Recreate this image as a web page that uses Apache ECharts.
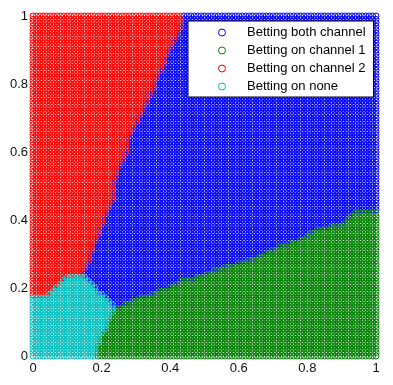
<!DOCTYPE html>
<html>
<head>
<meta charset="utf-8">
<script src="https://cdn.jsdelivr.net/npm/echarts@6/dist/echarts.min.js"></script>
<style>
html,body{margin:0;padding:0;background:#fff;}
#chart{width:393px;height:385px;}
</style>
</head>
<body>
<div id="chart"></div>
<script>
// ---- data ----
var seriesNames = ['Betting both channel', 'Betting on channel 1', 'Betting on channel 2', 'Betting on none'];
var seriesColors = ['#0000FF', '#008000', '#FF0000', '#00BFBF'];
var xTicks = [0, 0.2, 0.4, 0.6, 0.8, 1];
var yTicks = [0, 0.2, 0.4, 0.6, 0.8, 1];
var gridStep = 0.01;

// red / blue boundary: x where red ends, at given y
var redBoundY = [0.24, 0.27, 0.30, 0.33, 0.37, 0.40, 0.43, 0.46, 0.49, 0.52, 0.55, 0.58, 0.61, 0.64, 0.67, 0.69, 0.72, 0.75, 0.78, 0.81, 0.84, 0.87, 0.90, 0.93, 0.96, 1.00];
var redBoundX = [0.143, 0.157, 0.166, 0.178, 0.195, 0.204, 0.219, 0.230, 0.233, 0.239, 0.248, 0.262, 0.274, 0.277, 0.292, 0.303, 0.318, 0.332, 0.347, 0.356, 0.376, 0.385, 0.394, 0.414, 0.429, 0.434];

// top edge of the cyan region, over x
var cyanTopX = [0, 0.044, 0.055, 0.073, 0.085, 0.093, 0.152, 0.175, 0.187, 0.210, 0.224, 0.235];
var cyanTopY = [0.179, 0.179, 0.194, 0.203, 0.224, 0.232, 0.232, 0.209, 0.188, 0.174, 0.159, 0.144];

// right edge of the cyan region, over y
var cyanRightY = [0, 0.032, 0.053, 0.076, 0.100, 0.126, 0.144];
var cyanRightX = [0.181, 0.187, 0.195, 0.210, 0.219, 0.230, 0.235];

// top edge of the green region, over x
var greenTopX = [0.18, 0.233, 0.268, 0.292, 0.341, 0.391, 0.437, 0.487, 0.536, 0.583, 0.633, 0.682, 0.729, 0.778, 0.828, 0.857, 0.895, 0.918, 0.933, 0.974, 1.0];
var greenTopY = [0.135, 0.135, 0.150, 0.165, 0.179, 0.200, 0.224, 0.232, 0.253, 0.268, 0.282, 0.303, 0.326, 0.341, 0.371, 0.379, 0.385, 0.400, 0.424, 0.429, 0.424];

// ---- build classified lattice ----
function edge(xs, ys, v) {
  if (v <= xs[0]) return ys[0];
  for (var i = 1; i < xs.length; i++) {
    if (v <= xs[i]) {
      var t = (v - xs[i - 1]) / (xs[i] - xs[i - 1]);
      return ys[i - 1] + t * (ys[i] - ys[i - 1]);
    }
  }
  return ys[ys.length - 1];
}
var groups = [[], [], [], []];
var n = Math.round(1 / gridStep);
for (var i = 0; i <= n; i++) {
  for (var j = 0; j <= n; j++) {
    var x = +(i * gridStep).toFixed(2), y = +(j * gridStep).toFixed(2);
    var k;
    if (x <= cyanTopX[cyanTopX.length - 1] && y <= edge(cyanTopX, cyanTopY, x) && x <= edge(cyanRightY, cyanRightX, y)) k = 3;
    else if (x >= greenTopX[0] && y <= edge(greenTopX, greenTopY, x)) k = 1;
    else if (x <= edge(redBoundY, redBoundX, y)) k = 2;
    else k = 0;
    groups[k].push([x, y]);
  }
}

var chart = echarts.init(document.getElementById('chart'), null, {renderer: 'canvas'});
var fontFam = '"Liberation Sans", Arial, sans-serif';
var series = seriesNames.map(function (name, idx) {
  return {
    name: name,
    type: 'scatter',
    data: groups[idx],
    symbol: 'circle',
    symbolSize: 6,
    progressive: 0,
    silent: true,
    animation: false,
    itemStyle: {color: 'rgba(255,255,255,0)', borderColor: seriesColors[idx], borderWidth: 1, opacity: 1},
    emphasis: {disabled: true}
  };
});
var option = {
  animation: false,
  backgroundColor: '#fff',
  grid: {left: 33, right: 17, top: 16, bottom: 29},
  xAxis: {
    type: 'value', min: xTicks[0], max: xTicks[xTicks.length - 1], interval: xTicks[1] - xTicks[0],
    axisLine: {show: false}, axisTick: {show: false}, splitLine: {show: false},
    axisLabel: {color: '#111', fontSize: 13, fontFamily: fontFam, margin: 6}
  },
  yAxis: {
    type: 'value', min: yTicks[0], max: yTicks[yTicks.length - 1], interval: yTicks[1] - yTicks[0],
    axisLine: {show: false}, axisTick: {show: false}, splitLine: {show: false},
    axisLabel: {color: '#111', fontSize: 13, fontFamily: fontFam, margin: 5}
  },
  legend: {
    orient: 'vertical',
    left: 188, top: 21,
    padding: [5, 8, 4, 30],
    itemGap: 5,
    itemWidth: 40, itemHeight: 7,
    backgroundColor: '#fff', borderColor: '#000', borderWidth: 1, borderRadius: 0,
    textStyle: {color: '#000', fontSize: 13, fontFamily: fontFam},
    data: seriesNames.map(function (name, idx) {
      return {name: name, icon: 'circle', itemStyle: {color: 'rgba(255,255,255,0)', borderColor: seriesColors[idx], borderWidth: 1}};
    })
  },
  series: series
};
chart.setOption(option);
</script>
</body>
</html>
